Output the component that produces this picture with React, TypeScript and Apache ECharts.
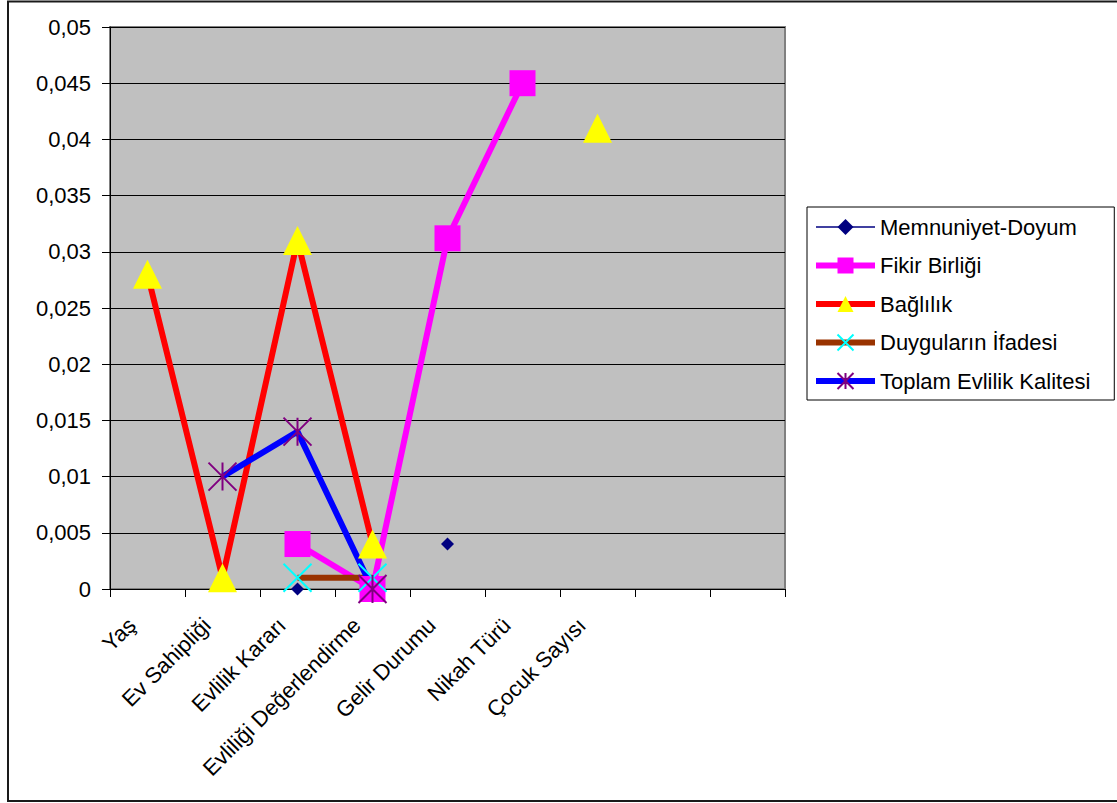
import React, { useEffect, useRef } from "react";
import * as echarts from "echarts";

const categories = [
  "Yaş",
  "Ev Sahipliği",
  "Evlilik Kararı",
  "Evliliği Değerlendirme",
  "Gelir Durumu",
  "Nikah Türü",
  "Çocuk Sayısı",
  "",
  "",
];

const memnuniyetDoyum = [null, null, 0, null, 0.004, null, null, null, null];
const fikirBirligi = [null, null, 0.004, 0, 0.0312, 0.045, null, null, null];
const baglilik = [0.028, 0.001, 0.031, 0.004, null, null, 0.041, null, null];
const duygularinIfadesi = [null, null, 0.001, 0.001, null, null, null, null, null];
const toplamEvlilikKalitesi = [null, 0.01, 0.014, 0, null, null, null, null, null];

const seriesNames = [
  "Memnuniyet-Doyum",
  "Fikir Birliği",
  "Bağlılık",
  "Duyguların İfadesi",
  "Toplam Evlilik Kalitesi",
];

const yMin = 0;
const yMax = 0.05;
const yInterval = 0.005;

const FONT = '"Liberation Sans", Arial, sans-serif';
const CROSS = "path://M0,0L10,10M10,0L0,10";
const STAR = "path://M0,0L10,10M10,0L0,10M5,0L5,10";

export default function App() {
  const ref = useRef<HTMLDivElement>(null);

  useEffect(() => {
    if (!ref.current) return;
    const chart = echarts.init(ref.current, null, { renderer: "svg" });
    const legendWidths = [1.5, 6, 6, 6, 6];
    const option: any = {
      animation: false,
      backgroundColor: "#ffffff",
      textStyle: { fontFamily: FONT },
      graphic: [
        {
          type: "rect",
          shape: { x: 8, y: 1.5, width: 1120, height: 799.5 },
          style: { fill: "none", stroke: "#1a1a1a", lineWidth: 2 },
          silent: true,
          z: 100,
        },
      ],
      grid: {
        left: 110,
        top: 27,
        width: 675,
        height: 562,
        show: true,
        backgroundColor: "#C0C0C0",
        borderColor: "#808080",
        borderWidth: 2,
        containLabel: false,
        outerBoundsMode: "none",
      },
      legend: {
        orient: "vertical",
        left: 807,
        top: 207,
        itemWidth: 59,
        itemHeight: 20,
        itemGap: 16.5,
        padding: [9, 24, 8, 6],
        borderColor: "#000",
        borderWidth: 1,
        backgroundColor: "#fff",
        textStyle: { fontSize: 22, color: "#000", fontFamily: FONT },
        data: seriesNames.map((n, i) => ({
          name: n,
          lineStyle: { width: legendWidths[i] },
        })),
      },
      xAxis: {
        type: "category",
        data: categories,
        boundaryGap: true,
        axisLine: { lineStyle: { color: "#000", width: 1 } },
        axisTick: { show: true, length: 8, lineStyle: { color: "#000" }, interval: 0 },
        axisLabel: {
          interval: 0,
          rotate: 45,
          fontSize: 22,
          color: "#000",
          fontFamily: FONT,
          margin: 17,
          padding: [0, 22, 0, 0],
        },
        splitLine: { show: false },
      },
      yAxis: {
        type: "value",
        min: yMin,
        max: yMax,
        interval: yInterval,
        axisLine: { show: true, lineStyle: { color: "#000", width: 1 } },
        axisTick: { show: true, length: 8, lineStyle: { color: "#000" } },
        axisLabel: {
          fontSize: 22,
          color: "#000",
          fontFamily: FONT,
          margin: 19,
          formatter: (v: number) =>
            String(parseFloat(v.toFixed(4))).replace(".", ","),
        },
        splitLine: { show: true, lineStyle: { color: "#000", width: 1 } },
      },
      series: [
        {
          name: seriesNames[0],
          type: "line",
          data: memnuniyetDoyum,
          symbol: "diamond",
          symbolSize: 13,
          showAllSymbol: true,
          connectNulls: false,
          itemStyle: { color: "#000080" },
          lineStyle: { color: "#000080", width: 1.5 },
        },
        {
          name: seriesNames[1],
          type: "line",
          data: fikirBirligi,
          symbol: "rect",
          symbolSize: 26,
          showAllSymbol: true,
          itemStyle: { color: "#FF00FF" },
          lineStyle: { color: "#FF00FF", width: 6 },
        },
        {
          name: seriesNames[2],
          type: "line",
          data: baglilik,
          symbol: "triangle",
          symbolSize: 29,
          showAllSymbol: true,
          itemStyle: { color: "#FFFF00" },
          lineStyle: { color: "#FF0000", width: 6 },
        },
        {
          name: seriesNames[3],
          type: "line",
          data: duygularinIfadesi,
          symbol: CROSS,
          symbolSize: 28,
          showAllSymbol: true,
          itemStyle: { color: "none", borderColor: "#00FFFF", borderWidth: 2 },
          lineStyle: { color: "#993300", width: 6 },
        },
        {
          name: seriesNames[4],
          type: "line",
          data: toplamEvlilikKalitesi,
          symbol: STAR,
          symbolSize: 28,
          showAllSymbol: true,
          itemStyle: { color: "none", borderColor: "#800080", borderWidth: 2 },
          lineStyle: { color: "#0000FF", width: 6 },
        },
      ],
    };
    chart.setOption(option);
    return () => chart.dispose();
  }, []);

  return (
    <div
      ref={ref}
      style={{ position: "absolute", left: 0, top: 0, width: 1117, height: 803 }}
    />
  );
}
